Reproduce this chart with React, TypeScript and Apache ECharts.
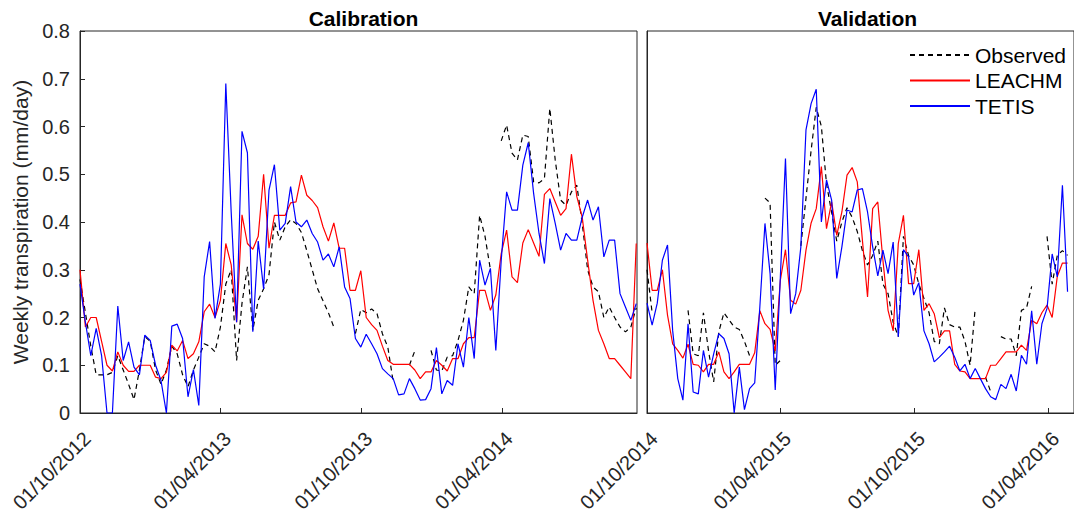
import React, { useEffect, useRef } from 'react';
import * as echarts from 'echarts';

const DAY = 86400000;
const FONT = "'Liberation Sans', Arial, Helvetica, sans-serif";

// Weekly series, calibration period (first week 01/10/2012)
const calStart = '01/10/2012';
const calObserved: (number | null)[] = [
  0.28, 0.21, 0.14, 0.08, 0.08, 0.08, 0.085, 0.12, 0.09, 0.06,
  0.028, 0.09, 0.16, 0.15, 0.09, 0.06, 0.09, 0.14, 0.124, 0.08,
  0.055, 0.09, 0.117, 0.145, 0.14, 0.128, 0.18, 0.27, 0.30, 0.11,
  0.23, 0.306, 0.173, 0.236, 0.26, 0.29, 0.40, 0.362, 0.39, 0.405,
  0.397, 0.378, 0.34, 0.30, 0.26, 0.235, 0.21, 0.18, null, null,
  null, 0.166, 0.217, 0.21, 0.218, 0.208, 0.166, 0.138, 0.065, null,
  null, 0.10, 0.13, null, null, 0.131, 0.09, 0.088, 0.117, 0.12,
  0.152, 0.194, 0.264, 0.25, 0.414, 0.37, 0.30, null, 0.57, 0.603,
  0.544, 0.53, 0.582, 0.579, 0.484, 0.482, 0.491, 0.638, 0.53, 0.446,
  0.435, 0.463, 0.477, 0.397, 0.30, 0.264, 0.254, 0.20, 0.222, 0.20,
  0.18, 0.17, 0.18, 0.22,
];
const calLeachm: number[] = [
  0.30, 0.18, 0.20, 0.20, 0.15, 0.10, 0.088, 0.128, 0.10, 0.087,
  0.087, 0.10, 0.10, 0.10, 0.075, 0.072, 0.085, 0.142, 0.13, 0.152,
  0.114, 0.124, 0.149, 0.212, 0.228, 0.20, 0.236, 0.355, 0.31, 0.19,
  0.415, 0.355, 0.343, 0.37, 0.50, 0.345, 0.414, 0.414, 0.414, 0.44,
  0.442, 0.498, 0.456, 0.445, 0.43, 0.39, 0.36, 0.398, 0.345, 0.345,
  0.257, 0.257, 0.298, 0.20, 0.185, 0.173, 0.14, 0.11, 0.102, 0.102,
  0.102, 0.102, 0.09, 0.072, 0.086, 0.086, 0.11, 0.10, 0.088, 0.114,
  0.114, 0.145, 0.158, 0.158, 0.257, 0.257, 0.215, 0.247, 0.334, 0.383,
  0.285, 0.273, 0.356, 0.384, 0.356, 0.328, 0.458, 0.47, 0.442, 0.414,
  0.428, 0.542, 0.453, 0.41, 0.32, 0.236, 0.173, 0.145, 0.114, 0.114,
  0.10, 0.086, 0.072, 0.355,
];
const calTetis: number[] = [
  0.27, 0.19, 0.12, 0.177, 0.12, 0.0, 0.0, 0.224, 0.11, 0.149,
  0.096, 0.08, 0.163, 0.152, 0.10, 0.068, 0.0, 0.182, 0.186, 0.156,
  0.034, 0.091, 0.016, 0.285, 0.359, 0.198, 0.27, 0.69, 0.42, 0.19,
  0.59, 0.545, 0.17, 0.36, 0.26, 0.467, 0.52, 0.383, 0.397, 0.474,
  0.40, 0.39, 0.404, 0.376, 0.358, 0.32, 0.333, 0.306, 0.348, 0.264,
  0.24, 0.156, 0.138, 0.165, 0.145, 0.124, 0.093, 0.082, 0.072, 0.038,
  0.04, 0.072, 0.051, 0.027, 0.028, 0.051, 0.137, 0.04, 0.068, 0.058,
  0.145, 0.096, 0.20, 0.114, 0.32, 0.268, 0.303, 0.131, 0.32, 0.463,
  0.425, 0.425, 0.519, 0.566, 0.46, 0.376, 0.313, 0.449, 0.397, 0.341,
  0.376, 0.362, 0.362, 0.41, 0.446, 0.404, 0.432, 0.327, 0.362, 0.362,
  0.25, 0.222, 0.194, 0.229,
];

// Weekly series, validation period (first week 01/10/2014)
const valStart = '01/10/2014';
const valObserved: (number | null)[] = [
  0.30, 0.21, null, null, null, null, null, null, 0.215, 0.124,
  0.12, 0.21, 0.13, 0.065, 0.17, 0.21, 0.195, 0.18, 0.175, 0.15,
  0.12, null, null, 0.45, 0.44, 0.10, 0.11, null, null, null,
  0.35, 0.45, 0.55, 0.64, 0.60, 0.48, 0.42, 0.36, 0.40, 0.43,
  0.41, 0.38, 0.34, 0.31, 0.33, 0.36, 0.27, 0.25, 0.19, 0.16,
  0.37, 0.33, 0.31, 0.27, 0.24, 0.21, 0.15, 0.145, 0.22, 0.185,
  0.18, 0.18, 0.15, 0.10, 0.22, null, 0.075, 0.045, null, 0.16,
  0.155, 0.155, 0.12, 0.215, 0.22, 0.265, null, null, 0.37, 0.27,
  0.33, 0.34, 0.33,
];
const valLeachm: number[] = [
  0.356, 0.257, 0.257, 0.30, 0.205, 0.145, 0.131, 0.115, 0.144, 0.102,
  0.10, 0.086, 0.102, 0.102, 0.128, 0.086, 0.072, 0.086, 0.102, 0.102,
  0.102, 0.126, 0.214, 0.187, 0.175, 0.13, 0.278, 0.342, 0.236, 0.228,
  0.257, 0.341, 0.398, 0.428, 0.516, 0.386, 0.442, 0.372, 0.421, 0.498,
  0.514, 0.484, 0.362, 0.243, 0.428, 0.442, 0.32, 0.215, 0.172, 0.355,
  0.414, 0.271, 0.271, 0.342, 0.215, 0.229, 0.208, 0.158, 0.172, 0.172,
  0.102, 0.088, 0.086, 0.072, 0.072, 0.072, 0.072, 0.10, 0.10, 0.114,
  0.128, 0.128, 0.128, 0.142, 0.131, 0.194, 0.187, 0.21, 0.226, 0.20,
  0.286, 0.314, 0.314,
];
const valTetis: number[] = [
  0.23, 0.184, 0.23, 0.32, 0.352, 0.173, 0.072, 0.027, 0.187, 0.044,
  0.04, 0.131, 0.075, 0.124, 0.166, 0.156, 0.124, 0.0, 0.096, 0.007,
  0.051, 0.063, 0.222, 0.397, 0.292, 0.048, 0.285, 0.533, 0.208, 0.25,
  0.348, 0.593, 0.648, 0.678, 0.40, 0.488, 0.446, 0.282, 0.348, 0.425,
  0.421, 0.467, 0.47, 0.421, 0.348, 0.287, 0.341, 0.292, 0.358, 0.16,
  0.342, 0.327, 0.247, 0.273, 0.172, 0.145, 0.107, 0.117, 0.128, 0.14,
  0.117, 0.088, 0.102, 0.072, 0.093, 0.072, 0.051, 0.034, 0.028, 0.06,
  0.051, 0.081, 0.046, 0.121, 0.102, 0.214, 0.102, 0.187, 0.219, 0.333,
  0.285, 0.477, 0.254,
];

const calTickLabels = ['01/10/2012', '01/04/2013', '01/10/2013', '01/04/2014'];
const valTickLabels = ['01/10/2014', '01/04/2015', '01/10/2015', '01/04/2016'];
const yTickLabels = ['0', '0.1', '0.2', '0.3', '0.4', '0.5', '0.6', '0.7', '0.8'];

const parseDMY = (s: string) => {
  const [d, m, y] = s.split('/').map(Number);
  return Date.UTC(y, m - 1, d);
};
const fmtDMY = (v: number) => {
  const d = new Date(v);
  const dd = String(d.getUTCDate()).padStart(2, '0');
  const mm = String(d.getUTCMonth() + 1).padStart(2, '0');
  return `${dd}/${mm}/${d.getUTCFullYear()}`;
};
const weekly = (start: string, vals: (number | null)[]) => {
  const t0 = parseDMY(start);
  return vals.map((v, i) => [t0 + i * 7 * DAY, v]);
};

export default function App() {
  const ref = useRef<HTMLDivElement>(null);
  useEffect(() => {
    document.body.style.margin = '0';
    if (!ref.current) return;
    const chart = echarts.init(ref.current, undefined, { renderer: 'svg' });
    const axisColor = '#262626';
    const calMin = parseDMY(calStart);
    const calMax = calMin + 722 * DAY;
    const valMin = parseDMY(valStart);
    const valMax = valMin + 582.8 * DAY;
    const xAxisCommon = (ticks: string[]) => ({
      type: 'value' as const,
      axisLine: { show: true, onZero: false, lineStyle: { color: axisColor, width: 1 } },
      axisTick: {
        show: true, inside: true, length: 5,
        lineStyle: { color: axisColor },
        customValues: ticks.map(parseDMY),
      },
      axisLabel: {
        show: true,
        rotate: 45,
        margin: 15,
        verticalAlign: 'top',
        color: axisColor,
        fontSize: 20,
        fontFamily: FONT,
        showMinLabel: true,
        customValues: ticks.map(parseDMY),
        formatter: (v: number) => fmtDMY(v),
      },
      splitLine: { show: false },
    });
    const line = (name: string, data: any, xi: number, color: string, dashed = false) => ({
      name,
      type: 'line',
      xAxisIndex: xi,
      yAxisIndex: xi,
      data,
      symbol: 'none',
      showSymbol: false,
      connectNulls: false,
      clip: true,
      lineStyle: { color, width: 1.2, type: dashed ? [5, 4] : 'solid' },
      itemStyle: { color },
      emphasis: { disabled: true },
    });
    chart.setOption({
      animation: false,
      backgroundColor: '#ffffff',
      title: [
        {
          text: 'Calibration', left: 358.5, top: 3, textAlign: 'center',
          textStyle: { fontSize: 21, fontWeight: 'bold', color: '#000', fontFamily: FONT },
        },
        {
          text: 'Validation', left: 862.5, top: 3, textAlign: 'center',
          textStyle: { fontSize: 21, fontWeight: 'bold', color: '#000', fontFamily: FONT },
        },
      ],
      legend: {
        orient: 'vertical',
        left: 909,
        top: 44.5,
        padding: 0,
        itemWidth: 60,
        itemHeight: 14,
        itemGap: 4.5,
        itemStyle: { opacity: 0 },
        textStyle: { fontSize: 21, color: '#000', fontFamily: FONT },
        data: ['Observed', 'LEACHM', 'TETIS'],
      },
      grid: [
        { left: 80, top: 31, width: 557, height: 382, show: true, borderColor: axisColor, borderWidth: 1 },
        { left: 647, top: 31, width: 431, height: 382, show: true, borderColor: axisColor, borderWidth: 1 },
      ],
      xAxis: [
        { ...xAxisCommon(calTickLabels), gridIndex: 0, min: calMin, max: calMax },
        { ...xAxisCommon(valTickLabels), gridIndex: 1, min: valMin, max: valMax },
      ],
      yAxis: [
        {
          type: 'value', gridIndex: 0, min: 0, max: 0.8, interval: 0.1,
          name: 'Weekly transpiration (mm/day)',
          nameLocation: 'middle',
          nameGap: 48,
          nameTextStyle: { fontSize: 21, color: axisColor, fontFamily: FONT },
          axisLine: { show: true, lineStyle: { color: axisColor } },
          axisTick: { show: true, inside: true, length: 5, lineStyle: { color: axisColor } },
          axisLabel: {
            color: axisColor, fontSize: 20, fontFamily: FONT, margin: 10,
            formatter: (v: number) => yTickLabels[Math.round(v * 10)] ?? '',
          },
          splitLine: { show: false },
        },
        {
          type: 'value', gridIndex: 1, min: 0, max: 0.8, interval: 0.1,
          axisLine: { show: true, lineStyle: { color: axisColor } },
          axisTick: { show: false },
          axisLabel: { show: false },
          splitLine: { show: false },
        },
      ],
      series: [
        line('Observed', weekly(calStart, calObserved), 0, '#000000', true),
        line('LEACHM', weekly(calStart, calLeachm), 0, '#ff0000'),
        line('TETIS', weekly(calStart, calTetis), 0, '#0000ff'),
        line('Observed', weekly(valStart, valObserved), 1, '#000000', true),
        line('LEACHM', weekly(valStart, valLeachm), 1, '#ff0000'),
        line('TETIS', weekly(valStart, valTetis), 1, '#0000ff'),
      ],
    });
    return () => chart.dispose();
  }, []);
  return <div ref={ref} style={{ width: 1074, height: 516 }} />;
}
